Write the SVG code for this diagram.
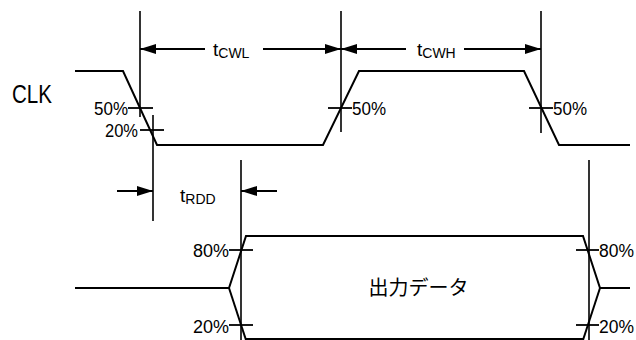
<svg xmlns="http://www.w3.org/2000/svg" width="636" height="340" viewBox="0 0 636 340">
<style>
.w{fill:none;stroke:#000;stroke-width:2;stroke-linejoin:miter}
.v{fill:none;stroke:#000;stroke-width:1.6}
.t{fill:none;stroke:#000;stroke-width:1.8}
.d{fill:none;stroke:#000;stroke-width:2}
.p{font-family:"Liberation Sans",Arial,sans-serif;font-size:18px;fill:#000}
.m{font-family:"Liberation Sans",Arial,sans-serif;fill:#000}
.j{font-family:"Noto Sans CJK JP","Noto Sans",sans-serif;font-size:20px;fill:#000}
</style>
<defs>
<marker id="ah" viewBox="0 0 16 10" refX="16" refY="5" markerWidth="16" markerHeight="10" markerUnits="userSpaceOnUse" orient="auto">
<path d="M0,0 L16,5 L0,10 z" fill="#000"/>
</marker>
</defs>
<rect width="636" height="340" fill="#fff"/>
<g id="clk">
<text class="m" x="12" y="103" font-size="25" textLength="40" lengthAdjust="spacingAndGlyphs">CLK</text>
<polyline class="w" points="75,71 123,71 157,145 323,145 359,71 524,71 559,145 630,145"/>
</g>
<g id="data">
<polyline class="w" points="75,288 229,288 246,236 583,236 600,288 630,288"/>
<polyline class="w" points="229,288 246,340"/>
<polyline class="w" points="583,340 600,288"/>
<line class="w" x1="246" y1="339" x2="583" y2="339"/>
<text class="j" x="418.5" y="295" text-anchor="middle">出力データ</text>
</g>
<g id="guides">
<line class="v" x1="140" y1="11" x2="140" y2="117"/>
<line class="v" x1="153" y1="115" x2="153" y2="221"/>
<line class="v" x1="341" y1="11" x2="341" y2="132"/>
<line class="v" x1="541" y1="11" x2="541" y2="133"/>
<line class="v" x1="241" y1="160" x2="241" y2="340"/>
<line class="v" x1="589" y1="160" x2="589" y2="340"/>
</g>
<g id="levels">
<line class="t" x1="128" y1="108" x2="153" y2="108"/>
<line class="t" x1="140" y1="130" x2="164" y2="130"/>
<line class="t" x1="328" y1="108" x2="352" y2="108"/>
<line class="t" x1="529" y1="108" x2="553" y2="108"/>
<line class="t" x1="229" y1="250" x2="253" y2="250"/>
<line class="t" x1="229" y1="325" x2="253" y2="325"/>
<line class="t" x1="576" y1="250" x2="599" y2="250"/>
<line class="t" x1="576" y1="325" x2="599" y2="325"/>
<text class="p" x="94" y="115" textLength="34" lengthAdjust="spacingAndGlyphs">50%</text>
<text class="p" x="105" y="137" textLength="33" lengthAdjust="spacingAndGlyphs">20%</text>
<text class="p" x="352" y="115" textLength="34" lengthAdjust="spacingAndGlyphs">50%</text>
<text class="p" x="553" y="115" textLength="34" lengthAdjust="spacingAndGlyphs">50%</text>
<text class="p" x="193" y="257" textLength="36" lengthAdjust="spacingAndGlyphs">80%</text>
<text class="p" x="193" y="333" textLength="36" lengthAdjust="spacingAndGlyphs">20%</text>
<text class="p" x="599" y="257" textLength="35" lengthAdjust="spacingAndGlyphs">80%</text>
<text class="p" x="599" y="333" textLength="35" lengthAdjust="spacingAndGlyphs">20%</text>
</g>
<g id="connectors">
<line class="d" x1="205" y1="49" x2="140" y2="49" marker-end="url(#ah)"/>
<line class="d" x1="263" y1="49" x2="341" y2="49" marker-end="url(#ah)"/>
<line class="d" x1="406" y1="49" x2="341" y2="49" marker-end="url(#ah)"/>
<line class="d" x1="464" y1="49" x2="541" y2="49" marker-end="url(#ah)"/>
<line class="d" x1="117" y1="191" x2="153" y2="191" marker-end="url(#ah)"/>
<line class="d" x1="277" y1="191" x2="241" y2="191" marker-end="url(#ah)"/>
</g>
<g id="labels">
<text class="m" x="213" y="56" font-size="19">t<tspan font-size="14" dy="2">CWL</tspan></text>
<text class="m" x="417" y="56" font-size="19">t<tspan font-size="14" dy="2">CWH</tspan></text>
<text class="m" x="180" y="202" font-size="19">t<tspan font-size="14" dy="2">RDD</tspan></text>
</g>
</svg>
